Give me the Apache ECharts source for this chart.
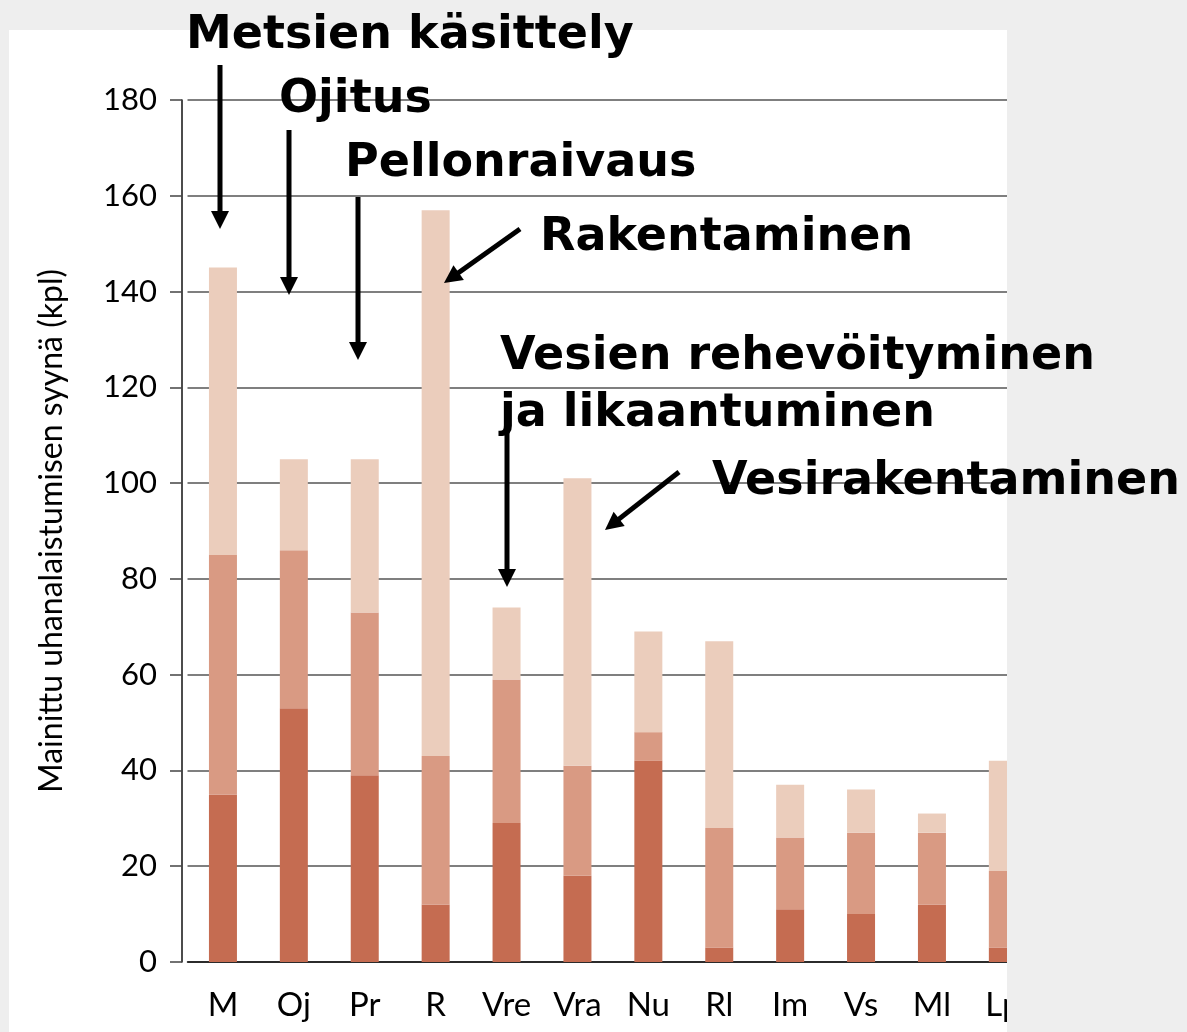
<!DOCTYPE html>
<html>
<head>
<meta charset="utf-8">
<script src="https://cdn.jsdelivr.net/npm/echarts@6/dist/echarts.min.js"></script>
<style>
  html, body { margin: 0; padding: 0; background: #eeeeee; }
  #panel { position: absolute; left: 9px; top: 30px; width: 998px; height: 1002px; background: #fff; }
  #chart { position: absolute; left: 0; top: 0; width: 1187px; height: 1032px; }
</style>
</head>
<body>
<div id="panel"></div>
<div id="chart"></div>
<script>
// luokat ja pinotut osuudet (kpl)
const categories = ["M", "Oj", "Pr", "R", "Vre", "Vra", "Nu", "Rl", "Im", "Vs", "Ml", "Lp"]
const darkPart = [35, 53, 39, 12, 29, 18, 42, 3, 11, 10, 12, 3]
const midPart = [50, 33, 34, 31, 30, 23, 6, 25, 15, 17, 15, 16]
const lightPart = [60, 19, 32, 114, 15, 60, 21, 39, 11, 9, 4, 23]
const yTicks = { min: 0, max: 180, interval: 20 }

const COLORS = ["#C56C51", "#D99A83", "#EBCDBC"]
const LABEL_FONT = "Lato, 'Open Sans', sans-serif"
const NOTE_FONT = "bold 46px 'DejaVu Sans'"

// huomautukset: teksti, vasen reuna, keskikohta y
const notes = [
  ["Metsien käsittely", 186, 36],
  ["Ojitus", 279, 100],
  ["Pellonraivaus", 345, 164],
  ["Rakentaminen", 540, 238],
  ["Vesien rehevöityminen", 500, 357],
  ["ja likaantuminen", 500, 414],
  ["Vesirakentaminen", 712, 482]
]
// nuolet: alku -> kärki
const arrows = [
  [220, 65, 220, 229],
  [289, 130, 289, 295],
  [358, 197, 358, 360],
  [520, 229, 444, 283],
  [507, 430, 507, 587],
  [679, 472, 605, 530]
]

function arrowShapes (a) {
  const [x1, y1, x2, y2] = a
  const len = Math.hypot(x2 - x1, y2 - y1)
  const ux = (x2 - x1) / len
  const uy = (y2 - y1) / len
  const head = 18
  const half = 9
  const bx = x2 - ux * head
  const by = y2 - uy * head
  return [
    {
      type: "line",
      z: 60,
      shape: { x1: x1, y1: y1, x2: bx + ux * 2, y2: by + uy * 2 },
      style: { stroke: "#000", lineWidth: 5 }
    },
    {
      type: "polygon",
      z: 60,
      shape: { points: [[x2, y2], [bx - uy * half, by + ux * half], [bx + uy * half, by - ux * half]] },
      style: { fill: "#000" }
    }
  ]
}

const chart = echarts.init(document.getElementById("chart"))

const graphics = [
  // oikean reunan yli menevä osa piiloon
  {
    type: "rect",
    z: 50,
    shape: { x: 1007, y: 0, width: 180, height: 1032 },
    style: { fill: "#eeeeee" }
  }
]
notes.forEach((n) => {
  graphics.push({
    type: "text",
    z: 61,
    style: {
      text: n[0],
      x: n[1],
      y: n[2],
      font: NOTE_FONT,
      fill: "#000",
      textAlign: "left",
      textVerticalAlign: "middle"
    }
  })
})
arrows.forEach((a) => {
  arrowShapes(a).forEach((g) => graphics.push(g))
})

const series = [darkPart, midPart, lightPart].map((vals, i) => {
  return {
    type: "bar",
    stack: "total",
    barWidth: 28,
    data: vals,
    itemStyle: { color: COLORS[i] }
  }
})

chart.setOption({
  animation: false,
  backgroundColor: "transparent",
  grid: {
    left: 187.5,
    top: 100,
    width: 850.8,
    height: 862
  },
  xAxis: {
    type: "category",
    data: categories,
    axisLine: { lineStyle: { color: "#111", width: 1.5 } },
    axisTick: { show: false },
    axisLabel: {
      color: "#000",
      fontFamily: LABEL_FONT,
      fontSize: 33,
      margin: 27
    }
  },
  yAxis: [
    {
      type: "value",
      min: yTicks.min,
      max: yTicks.max,
      interval: yTicks.interval,
      offset: 5.5,
      name: "Mainittu uhanalaistumisen syynä (kpl)",
      nameLocation: "middle",
      nameGap: 114,
      nameTextStyle: {
        color: "#000",
        fontFamily: LABEL_FONT,
        fontSize: 32
      },
      axisLine: { show: true, lineStyle: { color: "#111", width: 1.5 } },
      axisTick: { show: true, length: 12, lineStyle: { color: "#444", width: 1.5 } },
      axisLabel: {
        color: "#000",
        fontFamily: LABEL_FONT,
        fontSize: 31,
        margin: 25
      },
      splitLine: { lineStyle: { color: "#555", width: 1.5 } }
    },
    {
      // täyttää akselin ja ruudukon välisen raon
      type: "value",
      min: yTicks.min,
      max: yTicks.max,
      interval: yTicks.interval,
      offset: 5.5,
      axisLine: { show: false },
      axisTick: { show: true, inside: true, length: 6, lineStyle: { color: "#444", width: 1.5 } },
      axisLabel: { show: false },
      splitLine: { show: false }
    }
  ],
  graphic: graphics,
  series: series
})
</script>
</body>
</html>
